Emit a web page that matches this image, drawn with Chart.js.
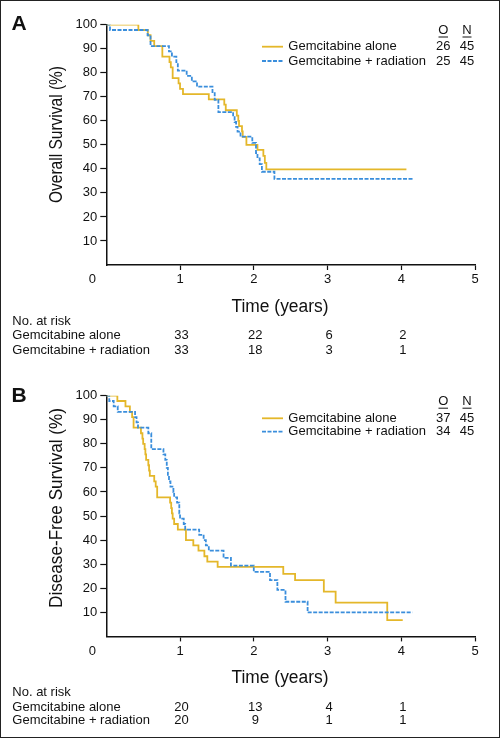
<!DOCTYPE html>
<html>
<head>
<meta charset="utf-8">
<script src="https://cdn.jsdelivr.net/npm/chart.js@4.4.1/dist/chart.umd.min.js"></script>
<style>
  html, body { margin: 0; padding: 0; background: #fff; }
  #wrap { position: relative; width: 500px; height: 738px; }
  #wrap canvas { position: absolute; left: 0; }
  #frame { position: absolute; left: 0; top: 0; width: 500px; height: 738px; box-sizing: border-box; border: 1px solid #222; pointer-events: none; }
</style>
</head>
<body>
<div id="wrap">
  <canvas id="chartA" width="500" height="369" style="top:0"></canvas>
  <canvas id="chartB" width="500" height="369" style="top:369px"></canvas>
  <div id="frame"></div>
</div>
<script>
const groups = ['Gemcitabine alone', 'Gemcitabine + radiation'];
const xTicks = [0, 1, 2, 3, 4, 5];
const riskYears = [1, 2, 3, 4];

// A: overall survival (%)
const osAloneT = [0, 0.435, 0.563, 0.60, 0.65, 0.76, 0.857, 0.875, 0.90, 0.98, 1.00, 1.04, 1.39, 1.60, 1.62, 1.77, 1.79, 1.80, 1.84, 1.85, 1.90, 2.05, 2.13, 2.15, 2.17, 4.07];
const osAloneS = [100, 97.8, 95.6, 93.3, 91.1, 86.7, 84.4, 82.2, 77.8, 75.6, 73.3, 71.1, 68.9, 66.7, 64.4, 62.2, 60.0, 57.8, 55.6, 53.3, 50.0, 47.9, 45.4, 42.5, 39.8, 39.8];
const osRadT = [0, 0.05, 0.56, 0.60, 0.85, 0.89, 0.95, 0.97, 1.09, 1.16, 1.23, 1.44, 1.47, 1.52, 1.72, 1.74, 1.76, 1.78, 1.82, 1.98, 2.03, 2.05, 2.08, 2.11, 2.28, 4.16];
const osRadS = [100, 97.8, 95.6, 91.1, 88.9, 86.7, 84.4, 80.9, 78.7, 76.4, 74.2, 71.5, 68.7, 63.6, 61.5, 59.5, 57.5, 55.5, 53.4, 50.8, 46.6, 44.4, 42.0, 38.8, 35.8, 35.8];
const osEvents = [26, 25];
const osTotal = [45, 45];
const osRiskAlone = [33, 22, 6, 2];
const osRiskRad = [33, 18, 3, 1];

// B: disease-free survival (%)
const dfsAloneT = [0, 0.15, 0.26, 0.32, 0.35, 0.37, 0.47, 0.49, 0.50, 0.52, 0.53, 0.54, 0.57, 0.58, 0.59, 0.65, 0.67, 0.69, 0.865, 0.88, 0.89, 0.90, 0.92, 0.97, 1.08, 1.18, 1.25, 1.33, 1.37, 1.51, 2.40, 2.56, 2.95, 3.11, 3.81, 4.02];
const dfsAloneS = [100, 97.8, 95.6, 93.3, 91.1, 86.7, 84.4, 82.2, 80.0, 77.8, 75.6, 73.3, 71.1, 68.9, 66.7, 64.4, 62.2, 57.8, 55.6, 53.3, 51.1, 48.9, 46.7, 44.4, 40.0, 37.8, 35.6, 33.3, 31.1, 28.9, 26.0, 23.4, 18.6, 14.0, 6.8, 6.8];
const dfsRadT = [0, 0.04, 0.10, 0.155, 0.39, 0.41, 0.43, 0.57, 0.61, 0.775, 0.80, 0.82, 0.835, 0.85, 0.87, 0.91, 0.92, 0.96, 0.99, 1.00, 1.05, 1.07, 1.26, 1.32, 1.35, 1.39, 1.59, 1.69, 2.00, 2.22, 2.32, 2.43, 2.73, 4.15];
const dfsRadS = [100, 97.8, 95.6, 93.3, 91.1, 88.9, 86.7, 84.4, 77.8, 75.6, 73.3, 70.0, 66.7, 64.4, 62.2, 60.0, 57.8, 55.6, 51.1, 48.9, 46.7, 44.4, 42.2, 40.0, 37.8, 35.6, 32.6, 29.4, 26.8, 23.4, 19.3, 14.4, 10.0, 10.0];
const dfsEvents = [37, 34];
const dfsTotal = [45, 45];
const dfsRiskAlone = [20, 13, 4, 1];
const dfsRiskRad = [20, 9, 1, 1];

const YELLOW = '#E4B72A';
const BLUE = '#3A8EDC';
const INK = '#111';
const FONT = '"Liberation Sans", Arial, sans-serif';

Chart.defaults.font.family = FONT;
Chart.defaults.font.size = 13;
Chart.defaults.color = INK;

function toPoints(t, s) {
  return t.map((v, i) => ({ x: v, y: s[i] }));
}

// draw text squeezed to a given length (the original uses a condensed face)
function fitText(ctx, text, cx, cy, len, angle) {
  ctx.save();
  ctx.font = '18px ' + FONT;
  const w = ctx.measureText(text).width;
  ctx.translate(cx, cy);
  ctx.rotate(angle);
  ctx.scale(len / w, 1);
  ctx.textAlign = 'center';
  ctx.textBaseline = 'middle';
  ctx.fillText(text, 0, 0);
  ctx.restore();
}

function panelPlugin(p) {
  return {
    id: 'panelText',
    afterDraw(chart) {
      const ctx = chart.ctx;
      const xs = chart.scales.x;
      ctx.save();
      ctx.fillStyle = INK;

      ctx.font = 'bold 21px ' + FONT;
      ctx.textAlign = 'left';
      ctx.textBaseline = 'alphabetic';
      ctx.fillText(p.letter, 11.5, p.letterY);

      fitText(ctx, p.yTitle, 56.7, p.yTitleMid, p.yTitleLen, -Math.PI / 2);
      fitText(ctx, 'Time (years)', 280, p.xTitleY, 97, 0);

      ctx.font = '13px ' + FONT;
      ctx.textAlign = 'center';
      ctx.textBaseline = 'middle';
      ctx.fillText('0', xs.getPixelForValue(0) - 14, p.tickY);

      // legend
      ctx.fillText('O', 443.3, p.legHead);
      ctx.fillText('N', 467, p.legHead);
      ctx.strokeStyle = INK;
      ctx.lineWidth = 1;
      ctx.beginPath();
      ctx.moveTo(438.5, p.legHead + 6.5); ctx.lineTo(448, p.legHead + 6.5);
      ctx.moveTo(462.5, p.legHead + 6.5); ctx.lineTo(471.5, p.legHead + 6.5);
      ctx.stroke();
      const colors = [YELLOW, BLUE];
      p.legRows.forEach((ly, i) => {
        ctx.strokeStyle = colors[i];
        ctx.lineWidth = 1.8;
        ctx.setLineDash(i === 1 ? [4, 1.5] : []);
        ctx.beginPath();
        ctx.moveTo(262, ly); ctx.lineTo(283, ly);
        ctx.stroke();
        ctx.setLineDash([]);
        ctx.textAlign = 'left';
        ctx.fillText(groups[i], 288.3, ly);
        ctx.textAlign = 'center';
        ctx.fillText(String(p.events[i]), 443.3, ly);
        ctx.fillText(String(p.total[i]), 467, ly);
      });

      // numbers at risk
      ctx.textAlign = 'left';
      ctx.fillText('No. at risk', 12.3, p.riskY[0]);
      ctx.fillText(groups[0], 12.3, p.riskY[1]);
      ctx.fillText(groups[1], 12.3, p.riskY[2]);
      ctx.textAlign = 'center';
      riskYears.forEach((yr, i) => {
        const px = xs.getPixelForValue(yr) + 1.5;
        ctx.fillText(String(p.riskAlone[i]), px, p.riskY[1]);
        ctx.fillText(String(p.riskRad[i]), px, p.riskY[2]);
      });
      ctx.restore();
    }
  };
}

function makeChart(id, p) {
  const hideZero = c => (c.tick && c.tick.value === 0 ? 'rgba(0,0,0,0)' : INK);
  return new Chart(document.getElementById(id), {
    type: 'line',
    data: {
      datasets: [
        { label: groups[0], data: toPoints(p.aloneT, p.aloneS), borderColor: YELLOW, borderWidth: 1.8,
          stepped: true, pointRadius: 0, fill: false, order: 1 },
        { label: groups[1], data: toPoints(p.radT, p.radS), borderColor: BLUE, borderWidth: 1.8,
          borderDash: [4, 1.5], stepped: true, pointRadius: 0, fill: false, order: 0 }
      ]
    },
    options: {
      responsive: false,
      animation: false,
      events: [],
      layout: { padding: { left: 0, right: 25, top: p.top, bottom: 0 } },
      plugins: { legend: { display: false }, tooltip: { enabled: false } },
      scales: {
        x: {
          type: 'linear', min: xTicks[0], max: xTicks[xTicks.length - 1],
          afterBuildTicks: s => { s.ticks = xTicks.map(v => ({ value: v })); },
          ticks: { padding: 2, maxRotation: 0, autoSkip: false, callback: v => (v === 0 ? '' : v) },
          grid: { drawOnChartArea: false, tickLength: 5, tickWidth: 1.2, tickColor: hideZero },
          border: { color: INK, width: 1.5 },
          afterFit: s => { s.height = 369 - p.bottom; }
        },
        y: {
          min: 0, max: 100,
          ticks: { stepSize: 10, padding: 3, callback: v => (v === 0 ? '' : v) },
          grid: { drawOnChartArea: false, tickLength: 6, tickWidth: 1.2, tickColor: hideZero },
          border: { color: INK, width: 1.5 },
          afterFit: s => { s.width = 106.3; }
        }
      }
    },
    plugins: [panelPlugin(p)]
  });
}

makeChart('chartA', {
  aloneT: osAloneT, aloneS: osAloneS, radT: osRadT, radS: osRadS,
  events: osEvents, total: osTotal, riskAlone: osRiskAlone, riskRad: osRiskRad,
  top: 24.7, bottom: 265,
  letter: 'A', letterY: 30,
  yTitle: 'Overall Survival (%)', yTitleMid: 134.5, yTitleLen: 137,
  xTitleY: 307, tickY: 279,
  legHead: 30.5, legRows: [46.7, 61],
  riskY: [321.7, 335.7, 350]
});

makeChart('chartB', {
  aloneT: dfsAloneT, aloneS: dfsAloneS, radT: dfsRadT, radS: dfsRadS,
  events: dfsEvents, total: dfsTotal, riskAlone: dfsRiskAlone, riskRad: dfsRiskRad,
  top: 26.7, bottom: 267.4,
  letter: 'B', letterY: 32.7,
  yTitle: 'Disease-Free Survival (%)', yTitleMid: 139, yTitleLen: 200,
  xTitleY: 309, tickY: 282.7,
  legHead: 32.7, legRows: [49.3, 62.7],
  riskY: [323.7, 338, 351.7]
});
</script>
</body>
</html>
